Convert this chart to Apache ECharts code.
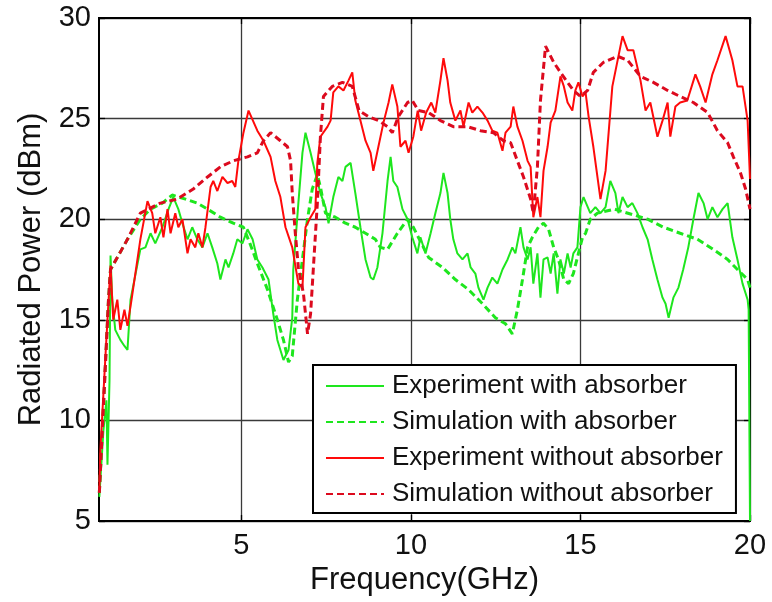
<!DOCTYPE html>
<html>
<head>
<meta charset="utf-8">
<script src="https://cdn.jsdelivr.net/npm/echarts@6/dist/echarts.min.js"></script>
<style>
html,body{margin:0;padding:0;background:#fff;}
#c{width:772px;height:602px;}
</style>
</head>
<body>
<div id="c"></div>
<script>
// ---- data (frequency GHz, radiated power dBm) ----
const seriesNames = ['Experiment with absorber','Simulation with absorber','Experiment without absorber','Simulation without absorber'];
const xTicks = [5, 10, 15, 20];
const yTicks = [5, 10, 15, 20, 25, 30];

const expWith = [
[0.81,6.2],[0.93,9.5],[1.02,11.0],[1.05,7.8],[1.11,12.0],[1.14,18.2],[1.19,16.0],[1.28,14.5],[1.43,14.0],[1.55,13.7],[1.64,13.5],[1.73,16.0],[2.02,18.5],[2.17,18.6],[2.32,19.3],[2.46,18.8],[2.67,19.6],[2.85,20.5],[2.99,21.1],[3.14,20.5],[3.26,19.8],[3.41,19.0],[3.55,19.6],[3.70,19.0],[3.85,18.6],[4.00,19.3],[4.14,18.6],[4.29,17.8],[4.38,17.0],[4.53,18.0],[4.62,17.6],[4.76,18.3],[4.88,19.0],[5.03,18.8],[5.18,19.5],[5.33,19.0],[5.47,18.0],[5.62,17.6],[5.80,17.0],[5.94,15.3],[6.06,14.0],[6.15,13.5],[6.24,13.0],[6.39,13.5],[6.50,15.1],[6.53,17.5],[6.68,20.8],[6.80,23.3],[6.89,24.3],[7.04,23.3],[7.18,22.3],[7.33,21.3],[7.48,20.6],[7.57,19.8],[7.71,21.1],[7.86,22.1],[7.98,21.9],[8.07,22.6],[8.22,22.8],[8.36,21.3],[8.51,19.6],[8.66,18.0],[8.81,17.1],[8.89,17.0],[9.01,17.6],[9.16,19.3],[9.31,21.9],[9.40,23.1],[9.48,21.9],[9.60,21.6],[9.75,20.5],[9.90,20.0],[10.04,19.1],[10.19,18.3],[10.28,19.1],[10.43,18.3],[10.58,19.3],[10.72,20.3],[10.87,21.3],[10.96,22.3],[11.08,21.3],[11.16,20.0],[11.25,19.0],[11.37,18.3],[11.52,18.0],[11.67,18.3],[11.76,17.6],[11.90,17.3],[11.99,16.6],[12.14,16.0],[12.26,16.6],[12.40,17.1],[12.55,16.8],[12.70,17.5],[12.85,18.0],[12.99,18.6],[13.08,18.3],[13.23,19.6],[13.32,18.6],[13.44,18.0],[13.53,18.6],[13.61,16.8],[13.73,18.3],[13.82,16.1],[13.91,18.0],[14.03,18.1],[14.12,17.3],[14.21,18.3],[14.32,16.3],[14.41,18.0],[14.51,17.3],[14.62,18.3],[14.71,17.6],[14.79,18.3],[14.91,18.6],[15.00,20.6],[15.09,21.1],[15.29,20.3],[15.44,20.6],[15.59,20.3],[15.74,20.6],[15.88,21.9],[16.03,21.3],[16.12,20.3],[16.24,21.1],[16.39,20.6],[16.53,20.8],[16.68,20.3],[16.83,19.6],[16.98,19.0],[17.12,18.0],[17.27,17.0],[17.42,16.1],[17.51,15.8],[17.60,15.1],[17.74,16.1],[17.89,16.6],[18.03,17.5],[18.18,18.6],[18.33,20.0],[18.48,21.3],[18.63,20.8],[18.75,20.0],[18.89,20.6],[19.04,20.1],[19.19,20.5],[19.34,20.8],[19.48,19.1],[19.63,18.0],[19.78,16.8],[19.93,16.0],[19.96,15.5],[20.0,5.0]
];

const simWith = [
[0.81,6.4],[1.08,16.0],[1.14,17.5],[1.64,19.0],[2.02,20.0],[2.32,20.5],[2.67,20.8],[2.96,21.2],[3.35,21.0],[3.70,20.8],[4.00,20.5],[4.38,20.1],[4.76,19.8],[5.06,19.6],[5.25,18.8],[5.47,17.8],[5.77,16.5],[6.06,15.0],[6.24,14.0],[6.39,12.9],[6.50,13.2],[6.65,16.0],[6.80,18.0],[6.95,20.0],[7.09,21.5],[7.24,22.2],[7.33,21.6],[7.48,20.3],[7.77,20.1],[8.07,19.8],[8.36,19.6],[8.66,19.3],[8.95,19.0],[9.10,18.6],[9.31,18.5],[9.60,19.3],[9.90,20.0],[10.07,19.6],[10.52,18.1],[10.93,17.6],[11.31,17.0],[11.70,16.5],[12.11,15.8],[12.49,15.1],[12.79,14.8],[12.99,14.3],[13.14,15.5],[13.29,17.0],[13.44,18.6],[13.58,19.1],[13.76,19.6],[13.91,19.8],[14.06,19.5],[14.21,18.6],[14.35,18.0],[14.51,17.0],[14.65,16.8],[14.79,17.3],[14.94,18.3],[15.06,19.1],[15.15,19.3],[15.29,20.0],[15.50,20.3],[16.00,20.5],[16.98,20.0],[17.45,19.6],[17.94,19.3],[18.45,19.0],[18.92,18.5],[19.34,18.0],[19.63,17.5],[19.93,17.0],[20.0,16.6]
];

const expWithout = [
[0.81,6.5],[0.84,8.5],[1.00,13.5],[1.14,17.7],[1.22,15.0],[1.34,16.0],[1.43,14.5],[1.55,15.5],[1.64,14.7],[1.76,16.0],[2.02,19.0],[2.23,20.9],[2.37,20.3],[2.46,19.3],[2.61,20.1],[2.70,19.1],[2.82,20.5],[2.91,19.3],[3.05,20.3],[3.14,19.6],[3.26,20.0],[3.41,18.3],[3.50,19.0],[3.64,18.6],[3.73,19.3],[3.85,18.6],[3.94,19.6],[4.09,21.6],[4.17,21.9],[4.29,21.4],[4.44,22.1],[4.59,21.8],[4.73,21.9],[4.82,21.6],[4.91,22.9],[5.06,24.3],[5.21,25.4],[5.47,24.4],[5.65,23.9],[5.86,23.1],[6.00,21.9],[6.15,21.1],[6.30,19.6],[6.50,18.6],[6.68,16.8],[6.80,16.6],[6.89,19.6],[7.04,20.1],[7.18,20.5],[7.24,22.8],[7.33,24.1],[7.54,24.6],[7.63,24.9],[7.71,26.3],[7.86,26.6],[8.01,26.4],[8.16,26.9],[8.27,27.3],[8.36,25.9],[8.51,24.9],[8.66,23.9],[8.81,23.3],[8.89,22.4],[9.04,23.6],[9.19,24.8],[9.34,25.8],[9.45,26.7],[9.60,25.6],[9.69,23.6],[9.84,23.9],[9.93,23.3],[10.07,24.1],[10.20,25.4],[10.30,24.4],[10.45,25.3],[10.60,25.8],[10.72,25.3],[10.87,26.9],[10.96,28.0],[11.08,26.9],[11.16,25.8],[11.31,24.9],[11.46,25.4],[11.55,24.6],[11.70,25.8],[11.81,25.3],[11.96,25.6],[12.11,25.3],[12.26,24.9],[12.40,24.4],[12.55,24.3],[12.70,23.4],[12.79,24.3],[12.94,24.6],[13.02,25.6],[13.14,24.6],[13.29,23.9],[13.44,22.9],[13.53,22.6],[13.61,20.1],[13.73,21.1],[13.82,20.1],[13.91,22.4],[14.03,23.6],[14.12,24.8],[14.26,25.4],[14.41,27.1],[14.51,26.6],[14.62,25.8],[14.76,25.4],[14.85,26.4],[14.94,26.8],[15.06,26.1],[15.15,26.3],[15.24,25.1],[15.38,23.6],[15.59,21.0],[15.74,22.4],[15.94,26.6],[16.24,29.1],[16.39,28.4],[16.56,28.4],[16.77,26.9],[16.92,25.4],[17.06,25.8],[17.27,24.1],[17.42,24.9],[17.57,25.8],[17.65,24.1],[17.80,25.6],[17.94,25.8],[18.15,25.9],[18.39,27.2],[18.53,26.6],[18.69,25.8],[18.89,27.2],[19.04,27.9],[19.28,29.1],[19.48,27.9],[19.63,26.6],[19.78,26.6],[19.93,24.9],[20.0,22.0]
];

const simWithout = [
[0.81,6.4],[1.08,16.0],[1.14,17.5],[1.64,19.0],[2.02,20.3],[2.61,20.8],[3.11,21.0],[3.58,21.5],[4.00,22.1],[4.38,22.6],[4.76,22.9],[5.18,23.1],[5.47,23.3],[5.65,23.9],[5.86,24.3],[6.15,23.9],[6.36,23.6],[6.45,22.9],[6.50,21.3],[6.59,19.3],[6.68,17.6],[6.83,16.3],[6.95,14.3],[7.04,15.3],[7.12,17.5],[7.24,20.8],[7.33,24.1],[7.42,26.1],[7.68,26.6],[7.98,26.8],[8.27,26.6],[8.47,25.4],[8.75,25.1],[9.04,24.9],[9.31,24.6],[9.45,24.3],[9.63,25.1],[9.90,25.8],[10.04,25.9],[10.22,25.4],[10.52,25.3],[10.87,24.9],[11.25,24.6],[11.67,24.6],[12.05,24.4],[12.43,24.3],[12.73,23.9],[12.94,23.8],[13.14,22.9],[13.32,22.1],[13.53,21.0],[13.61,20.3],[13.73,22.6],[13.82,25.9],[13.97,28.6],[14.21,27.8],[14.41,27.3],[14.62,26.8],[14.79,26.4],[15.00,26.1],[15.21,26.4],[15.38,27.3],[15.68,27.8],[16.09,28.1],[16.39,27.9],[16.77,27.1],[17.15,26.8],[17.57,26.4],[17.94,26.1],[18.33,25.8],[18.75,25.3],[19.04,24.4],[19.34,23.8],[19.51,23.1],[19.72,22.3],[19.87,21.5],[20.0,20.5]
];

const GREEN = '#1ee61e';
const RED = '#ff0a0a';
const RED_D = '#dc0a1e';
const FONT = 'Liberation Sans, Arial, Helvetica, sans-serif';

const chart = echarts.init(document.getElementById('c'), null, {renderer: 'canvas'});

const gridLine = {show: true, lineStyle: {color: '#3a3a3a', width: 1.3}};
const tickIn = {show: true, inside: true, length: 6, lineStyle: {color: '#000', width: 1.3}};

chart.setOption({
  animation: false,
  backgroundColor: '#fff',
  grid: {left: 99, right: 22, top: 18, bottom: 81, show: true, borderColor: '#000', borderWidth: 2, backgroundColor: 'transparent'},
  legend: {
    orient: 'vertical', left: 313, top: 365,
    data: seriesNames,
    itemWidth: 58, itemHeight: 14, itemGap: 10,
    padding: [8, 13, 6, 12],
    backgroundColor: '#fff', borderColor: '#000', borderWidth: 2,
    itemStyle: {opacity: 0},
    textStyle: {fontFamily: FONT, fontSize: 26, color: '#111', lineHeight: 26, padding: [0,0,0,3]},
    selectedMode: false
  },
  xAxis: [{
    type: 'value', min: 0.8, max: 20,
    name: 'Frequency(GHz)', nameLocation: 'middle', nameGap: 43,
    nameTextStyle: {fontFamily: FONT, fontSize: 31, color: '#111'},
    axisLine: {show: true, onZero: false, lineStyle: {color: '#000', width: 2}},
    axisTick: Object.assign({customValues: xTicks}, tickIn),
    axisLabel: {customValues: xTicks, fontFamily: FONT, fontSize: 29, color: '#111', margin: 10},
    splitLine: gridLine
  }, {
    type: 'value', min: 0.8, max: 20, position: 'top',
    axisLine: {show: true, onZero: false, lineStyle: {color: '#000', width: 2}},
    axisTick: Object.assign({customValues: xTicks}, tickIn),
    axisLabel: {show: false, customValues: xTicks},
    splitLine: {show: false}
  }],
  yAxis: [{
    type: 'value', min: 5, max: 30, interval: 5,
    name: 'Radiated Power (dBm)', nameLocation: 'middle', nameGap: 52,
    nameTextStyle: {fontFamily: FONT, fontSize: 31, color: '#111'},
    axisLine: {show: true, onZero: false, lineStyle: {color: '#000', width: 2}},
    axisTick: tickIn,
    axisLabel: {fontFamily: FONT, fontSize: 29, color: '#111', margin: 8},
    splitLine: gridLine
  }, {
    type: 'value', min: 5, max: 30, interval: 5, position: 'right',
    axisLine: {show: true, onZero: false, lineStyle: {color: '#000', width: 2}},
    axisTick: tickIn,
    axisLabel: {show: false},
    splitLine: {show: false}
  }],
  series: [
    {name: seriesNames[0], type: 'line', data: expWith, symbol: 'none', lineStyle: {color: GREEN, width: 2}, itemStyle: {color: GREEN}, z: 2},
    {name: seriesNames[1], type: 'line', data: simWith, symbol: 'none', lineStyle: {color: GREEN, width: 3, type: [7, 4]}, itemStyle: {color: GREEN}, z: 3},
    {name: seriesNames[2], type: 'line', data: expWithout, symbol: 'none', lineStyle: {color: RED, width: 2}, itemStyle: {color: RED}, z: 4},
    {name: seriesNames[3], type: 'line', data: simWithout, symbol: 'none', lineStyle: {color: RED_D, width: 3, type: [7, 4]}, itemStyle: {color: RED_D}, z: 5}
  ]
});
</script>
</body>
</html>
